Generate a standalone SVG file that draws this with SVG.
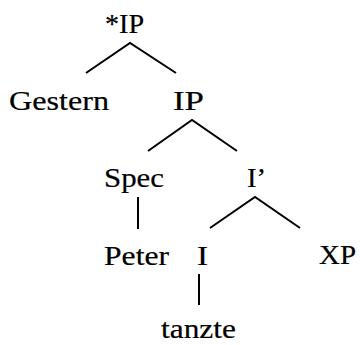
<svg xmlns="http://www.w3.org/2000/svg" width="360" height="345" viewBox="0 0 360 345">
<style>
.edge{stroke:#000;stroke-width:2;fill:none;stroke-linecap:butt}
.lbl{font-family:'Liberation Serif','DejaVu Serif',serif;font-stretch:condensed;font-size:27px;fill:#000;stroke:#000;stroke-width:0.2}
</style>
<rect width="360" height="345" fill="#fff"/>
<g id="connectors">
<path class="edge" d="M86,73 L130,43 L176,73"/>
<path class="edge" d="M148,151 L192,120 L237,151"/>
<path class="edge" d="M138,197 L138,229"/>
<path class="edge" d="M210,228 L255,197 L300,228"/>
<path class="edge" d="M199,274 L199,305"/>
</g>
<g id="n-ip-star"><text class="lbl" x="105" y="33" textLength="39" lengthAdjust="spacingAndGlyphs">*IP</text></g>
<g id="n-gestern"><text class="lbl" x="9" y="110" textLength="100" lengthAdjust="spacingAndGlyphs">Gestern</text></g>
<g id="n-ip"><text class="lbl" x="173" y="110" textLength="31" lengthAdjust="spacingAndGlyphs">IP</text></g>
<g id="n-spec"><text class="lbl" x="104" y="187" textLength="60" lengthAdjust="spacingAndGlyphs">Spec</text></g>
<g id="n-ibar"><text class="lbl" x="247" y="187" textLength="19" lengthAdjust="spacingAndGlyphs">I’</text></g>
<g id="n-peter"><text class="lbl" x="104" y="265" textLength="65" lengthAdjust="spacingAndGlyphs">Peter</text></g>
<g id="n-i"><text class="lbl" x="197" y="265" textLength="11" lengthAdjust="spacingAndGlyphs">I</text></g>
<g id="n-xp"><text class="lbl" x="319" y="264" textLength="37" lengthAdjust="spacingAndGlyphs">XP</text></g>
<g id="n-tanzte"><text class="lbl" x="161" y="338" textLength="75" lengthAdjust="spacingAndGlyphs">tanzte</text></g>
</svg>
